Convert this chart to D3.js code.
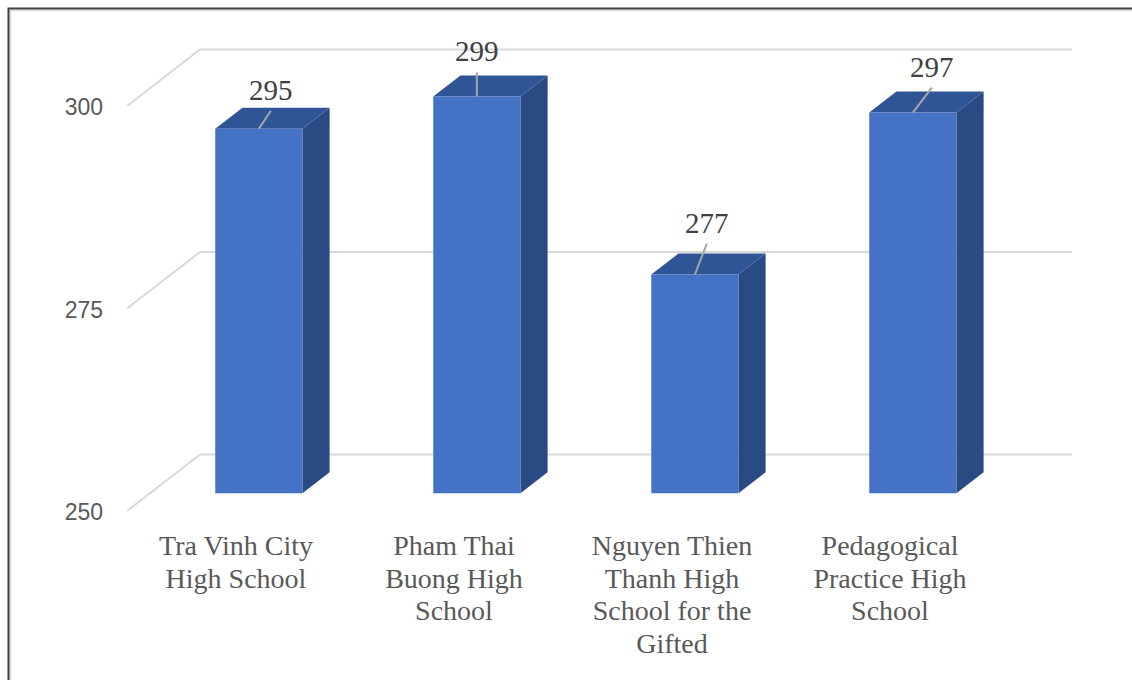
<!DOCTYPE html>
<html><head><meta charset="utf-8">
<script src="https://cdn.jsdelivr.net/npm/d3@7"></script>
<style>body{margin:0;background:#fff}svg{display:block}</style>
</head><body><svg id="c" width="1132" height="680"></svg>
<script>
// ---- data ----
const categories = ["Tra Vinh City High School", "Pham Thai Buong High School", "Nguyen Thien Thanh High School for the Gifted", "Pedagogical Practice High School"];
const values = [295, 299, 277, 297];
const tickValues = [250, 275, 300];
const yDomain = [250, 300];
// data-label placement (offset from bar top centre, px)
const labelOffsets = [[12, -29], [0, -35], [12, -42], [19, -36]];

// ---- layout ----
const svg = d3.select("#c");
const DX = 73, DY = 56.5;      // oblique depth offset (front plane -> back wall)
const D1 = 0.313, D2 = 0.685;  // bar depth range
const x = d3.scaleBand().domain(categories).range([127, 999]).paddingInner(0.6).paddingOuter(0.3);
const xFull = d3.scaleBand().domain(categories).range([127, 999]);
const y = d3.scaleLinear().domain(yDomain).range([511, 106]);
const P = (xf, v, d) => [xf + d * DX, y(v) - d * DY];

// border
svg.append("path").attr("d", "M10.5,680V10.5H1132").attr("fill", "none").attr("stroke", "#d9d9d9").attr("stroke-width", 1.5);
svg.append("path").attr("d", "M8.5,680V8.5H1132").attr("fill", "none").attr("stroke", "#3f3f3f").attr("stroke-width", 2);

// gridlines (back wall + left wall)
const g = svg.append("g");
tickValues.forEach(t => {
  const a = P(127, t, 0), b = P(127, t, 1), c = P(999, t, 1);
  g.append("path").attr("d", `M${a}L${b}L${c}`).attr("fill", "none")
    .attr("stroke", "#d9d9d9").attr("stroke-width", 2);
});

// tick labels
svg.append("g").selectAll("text").data(tickValues).join("text")
  .attr("x", 103).attr("y", d => y(d) + 1)
  .attr("text-anchor", "end").attr("dominant-baseline", "central")
  .attr("font-family", "'Liberation Sans', Arial, sans-serif").attr("font-size", 23)
  .attr("fill", "#595959").text(d => d);

// bars
const bars = svg.append("g");
categories.forEach((c, i) => {
  const v = values[i];
  const x0 = x(c), x1 = x(c) + x.bandwidth();
  const poly = pts => "M" + pts.map(p => p.join(",")).join("L") + "Z";
  // side face
  bars.append("path").attr("d", poly([P(x1, v, D1), P(x1, v, D2), P(x1, yDomain[0], D2), P(x1, yDomain[0], D1)]))
    .attr("fill", "#294a82");
  // top face
  bars.append("path").attr("d", poly([P(x0, v, D1), P(x1, v, D1), P(x1, v, D2), P(x0, v, D2)]))
    .attr("fill", "#2f5597");
  // front face
  bars.append("path").attr("d", poly([P(x0, v, D1), P(x1, v, D1), P(x1, yDomain[0], D1), P(x0, yDomain[0], D1)]))
    .attr("fill", "#4472c4");
});

// data labels + leader lines
const lab = svg.append("g");
categories.forEach((c, i) => {
  const v = values[i];
  const [cx, cy] = P(x(c) + x.bandwidth() / 2, v, D1);
  const [ox, oy] = labelOffsets[i];
  const lx = cx + ox, ly = cy + oy;
  lab.append("line").attr("x1", cx).attr("y1", cy).attr("x2", lx).attr("y2", ly + 11)
    .attr("stroke", "#a6a6a6").attr("stroke-width", 2);
  lab.append("text").attr("x", lx).attr("y", ly).attr("text-anchor", "middle")
    .attr("font-family", "'Liberation Serif', 'Times New Roman', serif").attr("font-size", 29)
    .attr("fill", "#404040").text(v);
});

// category labels (wrapped)
const cat = svg.append("g");
categories.forEach(c => {
  const t = cat.append("text").attr("text-anchor", "middle")
    .attr("font-family", "'Liberation Serif', 'Times New Roman', serif").attr("font-size", 28)
    .attr("fill", "#595959");
  const cx = xFull(c) + xFull.bandwidth() / 2;
  const words = c.split(" ");
  let lines = [], line = [];
  const probe = t.append("tspan");
  words.forEach(w => {
    const test = line.concat(w).join(" ");
    probe.text(test);
    if (probe.node().getComputedTextLength() > 190 && line.length) {
      lines.push(line.join(" ")); line = [w];
    } else line.push(w);
  });
  lines.push(line.join(" "));
  probe.remove();
  lines.forEach((l, k) => {
    t.append("tspan").attr("x", cx).attr("y", 555 + k * 32.5).text(l);
  });
});
</script></body></html>
